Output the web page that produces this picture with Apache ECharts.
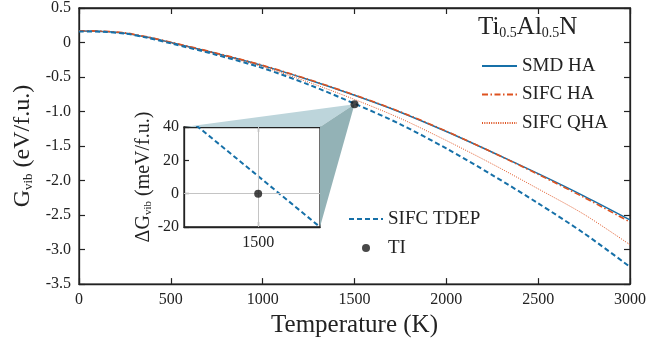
<!DOCTYPE html>
<html>
<head>
<meta charset="utf-8">
<script src="https://cdn.jsdelivr.net/npm/echarts@6/dist/echarts.min.js"></script>
<style>
  html, body { margin: 0; padding: 0; background: #fff; }
  #chart { width: 649px; height: 343px; }
</style>
</head>
<body>
<div id="chart"></div>
<script>
// temperatures (K) and vibrational free energy (eV/f.u.)
const temps = [0, 125, 250, 375, 500, 750, 1000, 1250, 1500, 1750, 2000, 2250, 2500, 2750, 3000];
const smdHA = [0.165, 0.16, 0.135, 0.075, 0.0, -0.16, -0.335, -0.54, -0.765, -1.01, -1.29, -1.59, -1.90, -2.225, -2.57];
const sifcHA = [0.17, 0.165, 0.14, 0.08, 0.005, -0.155, -0.33, -0.535, -0.76, -1.005, -1.285, -1.59, -1.91, -2.245, -2.60];
const sifcQHA = [0.165, 0.16, 0.135, 0.073, -0.005, -0.17, -0.35, -0.575, -0.825, -1.10, -1.42, -1.76, -2.12, -2.49, -2.93];
const sifcTDEP = [0.16, 0.155, 0.13, 0.067, -0.012, -0.18, -0.37, -0.61, -0.885, -1.185, -1.535, -1.92, -2.33, -2.765, -3.25];
const tiPoint = [1500, -0.895];

// inset: TDEP minus TI (meV/f.u.)
const insetT = [1440, 1500, 1550];
const insetDG = [47, 10.5, -20];
const insetTI = [1500, 0];
const insetXTicks = [1500];

const FONT = "Liberation Serif";
const INK = "#222";
const BLUE = "#1670a8";
const ORANGE = "#de5220";

function zip(xs, ys) {
  return xs.map((x, i) => [x, ys[i]]);
}

const chart = echarts.init(document.getElementById("chart"));

const frameAxis = {
  axisLine: {onZero: false, lineStyle: {color: INK, width: 1.3}},
  axisTick: {inside: true, length: 6, lineStyle: {color: INK, width: 1.2}},
  splitLine: {show: false}
};

chart.setOption({
  animation: false,
  textStyle: {fontFamily: FONT, color: INK},
  title: {
    text: "{a|Ti}{s|0.5}{a|Al}{s|0.5}{a|N}",
    left: 478,
    top: 14,
    padding: 0,
    textStyle: {
      fontWeight: "normal",
      rich: {
        a: {fontFamily: FONT, fontSize: 25, fontWeight: "normal", color: INK, lineHeight: 26},
        s: {fontFamily: FONT, fontSize: 14, fontWeight: "normal", color: INK, verticalAlign: "bottom", lineHeight: 2}
      }
    }
  },
  legend: [
    {
      data: ["SMD HA", "SIFC HA", "SIFC QHA"],
      orient: "vertical",
      left: 481,
      top: 56,
      padding: 0,
      itemWidth: 35,
      itemHeight: 8,
      itemGap: 8.5,
      itemStyle: {opacity: 0},
      textStyle: {fontFamily: FONT, fontSize: 19, color: INK, lineHeight: 20}
    },
    {
      data: [{name: "SIFC TDEP", itemStyle: {opacity: 0}}, {name: "TI"}],
      orient: "vertical",
      left: 348,
      top: 209,
      padding: 0,
      itemWidth: 34,
      itemHeight: 8,
      itemGap: 9,
      textStyle: {fontFamily: FONT, fontSize: 19, color: INK, lineHeight: 20}
    }
  ],
  grid: [
    {left: 79, top: 7, right: 15, bottom: 56, show: true, borderColor: INK, borderWidth: 1.3},
    {left: 184, top: 127, width: 136, height: 100, show: true, backgroundColor: "#fff", borderColor: INK, borderWidth: 1.3}
  ],
  xAxis: [
    Object.assign({}, frameAxis, {
      gridIndex: 0, type: "value", min: 0, max: 3000, interval: 500,
      name: "Temperature (K)", nameLocation: "middle", nameGap: 15,
      nameTextStyle: {fontFamily: FONT, fontSize: 25, color: INK},
      axisLabel: {fontFamily: FONT, fontSize: 16, color: INK, margin: 8, formatter: v => String(v)}
    }),
    Object.assign({}, frameAxis, {
      gridIndex: 0, type: "value", position: "top", min: 0, max: 3000, interval: 500,
      axisLabel: {show: false}
    }),
    Object.assign({}, frameAxis, {
      gridIndex: 1, type: "value", min: 1440, max: 1550,
      axisTick: {inside: true, length: 5, customValues: insetXTicks, lineStyle: {color: INK, width: 1.2}},
      axisLabel: {fontFamily: FONT, fontSize: 16, color: INK, margin: 8, customValues: insetXTicks, formatter: v => String(v)}
    }),
    Object.assign({}, frameAxis, {
      gridIndex: 1, type: "value", position: "top", min: 1440, max: 1550,
      axisTick: {inside: true, length: 5, customValues: insetXTicks, lineStyle: {color: INK, width: 1.2}},
      axisLabel: {show: false}
    })
  ],
  yAxis: [
    Object.assign({}, frameAxis, {
      gridIndex: 0, type: "value", min: -3.5, max: 0.5, interval: 0.5,
      name: "{g|G}{s|vib}{g| (eV/f.u.)}", nameLocation: "middle", nameGap: 44,
      nameTextStyle: {
        rich: {
          g: {fontFamily: FONT, fontSize: 24, color: INK, lineHeight: 24},
          s: {fontFamily: FONT, fontSize: 13, color: INK, verticalAlign: "bottom", lineHeight: 2}
        }
      },
      axisLabel: {
        fontFamily: FONT, fontSize: 16, color: INK, margin: 8,
        formatter: v => (v === 0 ? "0" : v.toFixed(1))
      }
    }),
    Object.assign({}, frameAxis, {
      gridIndex: 0, type: "value", position: "right", min: -3.5, max: 0.5, interval: 0.5,
      axisLabel: {show: false}
    }),
    Object.assign({}, frameAxis, {
      gridIndex: 1, type: "value", min: -20, max: 40, interval: 20,
      name: "{g|ΔG}{s|vib}{g| (meV/f.u.)}", nameLocation: "middle", nameGap: 27,
      nameTextStyle: {
        rich: {
          g: {fontFamily: FONT, fontSize: 20, color: INK, lineHeight: 20},
          s: {fontFamily: FONT, fontSize: 11, color: INK, verticalAlign: "bottom", lineHeight: 2}
        }
      },
      axisTick: {inside: true, length: 5, lineStyle: {color: INK, width: 1.2}},
      axisLabel: {fontFamily: FONT, fontSize: 16, color: INK, margin: 5}
    })
  ],
  series: [
    {
      name: "SMD HA", type: "line", xAxisIndex: 0, yAxisIndex: 0,
      data: zip(temps, smdHA), symbol: "none", smooth: 0.3,
      color: BLUE, lineStyle: {color: BLUE, width: 1.5, type: "solid"}
    },
    {
      name: "SIFC HA", type: "line", xAxisIndex: 0, yAxisIndex: 0,
      data: zip(temps, sifcHA), symbol: "none", smooth: 0.3,
      color: ORANGE, lineStyle: {color: ORANGE, width: 1.6, type: [6, 2.5, 1.5, 2.5]}
    },
    {
      name: "SIFC QHA", type: "line", xAxisIndex: 0, yAxisIndex: 0,
      data: zip(temps, sifcQHA), symbol: "none", smooth: 0.3,
      color: ORANGE, lineStyle: {color: ORANGE, width: 1, type: [1, 1.3]}
    },
    {
      name: "SIFC TDEP", type: "line", xAxisIndex: 0, yAxisIndex: 0,
      data: zip(temps, sifcTDEP), symbol: "none", smooth: 0.3,
      color: BLUE, lineStyle: {color: BLUE, width: 2, type: [5, 3]}
    },
    {
      name: "TI", type: "scatter", xAxisIndex: 0, yAxisIndex: 0,
      data: [tiPoint], symbol: "circle", symbolSize: 8, z: 5,
      color: "#1a1a1a", itemStyle: {color: "#1a1a1a"}
    },
    {
      name: "SIFC TDEP", type: "line", xAxisIndex: 2, yAxisIndex: 2,
      data: zip(insetT, insetDG), symbol: "none", clip: true,
      color: BLUE, lineStyle: {color: BLUE, width: 2, type: [5, 3]},
      markLine: {
        silent: true, symbol: "none", label: {show: false},
        lineStyle: {color: "#c4c4c4", width: 1, type: "solid"},
        data: [{xAxis: 1500}, {yAxis: 0}]
      }
    },
    {
      name: "TI", type: "scatter", xAxisIndex: 2, yAxisIndex: 2,
      data: [insetTI], symbol: "circle", symbolSize: 8, z: 5,
      color: "#1a1a1a", itemStyle: {color: "#1a1a1a"}
    }
  ]
});

// zoom cone from the TI point to the inset frame
const p = chart.convertToPixel({xAxisIndex: 0, yAxisIndex: 0}, tiPoint);
const inset = {xAxisIndex: 2, yAxisIndex: 2};
const tl = chart.convertToPixel(inset, [1440, 40]);
const tr = chart.convertToPixel(inset, [1550, 40]);
const br = chart.convertToPixel(inset, [1550, -20]);

chart.setOption({
  graphic: [
    {type: "polygon", z: 1, silent: true, shape: {points: [p, tl, tr]}, style: {fill: "#bdd5db"}},
    {type: "polygon", z: 1, silent: true, shape: {points: [p, tr, br]}, style: {fill: "#93b2b6"}}
  ]
});
</script>
</body>
</html>
